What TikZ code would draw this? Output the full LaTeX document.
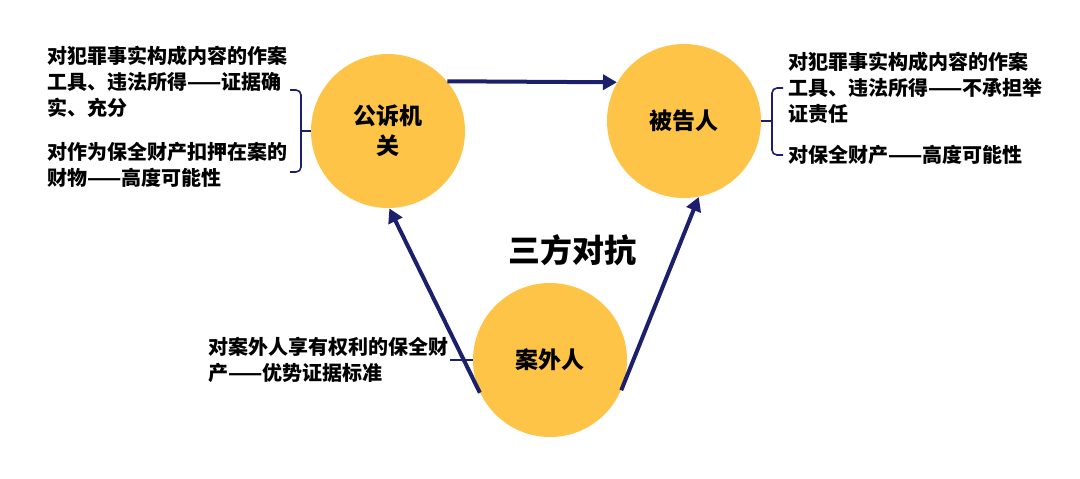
\documentclass[tikz,border=0pt]{standalone}
\usepackage{fontspec}
\setmainfont{Noto Sans CJK SC}
\usepackage{tikz}
\usetikzlibrary{arrows.meta}

\definecolor{navyline}{HTML}{1B1F6C}
\definecolor{partyfill}{HTML}{FDC447}

\tikzset{
  party/.style={circle,fill=partyfill,minimum size=77pt,inner sep=0pt,
    align=center,font=\fontsize{11.5}{15}\selectfont\bfseries},
  push/.style={navyline,line width=2pt,-{Triangle[length=7pt,width=7.5pt]}},
  brace/.style={navyline,line width=0.8pt,rounded corners=2.5pt},
  note/.style={inner sep=0pt,align=left,anchor=west,
    font=\fontsize{10}{13}\selectfont\bfseries},
}

\begin{document}
\begin{tikzpicture}[x=0.5pt,y=-0.5pt]
  \useasboundingbox (0,0) rectangle (1080,478);
  \node[party] (gsjg) at (388,131) {公诉机\\关};
  \node[party] (bgr) at (684,121) {被告人};
  \node[party] (awr) at (550,360) {案外人};
  \node[font=\fontsize{16}{16}\selectfont\bfseries] (title) at (572,250) {三方对抗};

  \node[note] (gsnote1) at (47,82) {对犯罪事实构成内容的作案\\工具、违法所得——证据确\\实、充分};
  \node[note] (gsnote2) at (47,165) {对作为保全财产扣押在案的\\财物——高度可能性};
  \node[note] (bgnote1) at (788,88) {对犯罪事实构成内容的作案\\工具、违法所得——不承担举\\证责任};
  \node[note] (bgnote2) at (788,155) {对保全财产——高度可能性};
  \node[note] (awnote) at (208,360) {对案外人享有权利的保全财\\产——优势证据标准};

  \draw[push] (gsjg.40) -- (bgr.150);
  \draw[push] (awr.205) -- (gsjg.271);
  \draw[push] (awr.337) -- (bgr.281);

  \coordinate (gsbrace) at (301,131);
  \coordinate (bgbrace) at (772,121);
  \coordinate (awstub) at (450,360);
  \draw[brace] (290,90) -- (301,90) -- (301,172) -- (290,172);
  \draw[brace] (gsjg.west) -- (gsbrace);
  \draw[brace] (783,88) -- (772,88) -- (772,155) -- (783,155);
  \draw[brace] (bgr.east) -- (bgbrace);
  \draw[brace] (awr.west) -- (awstub);
\end{tikzpicture}
\end{document}
